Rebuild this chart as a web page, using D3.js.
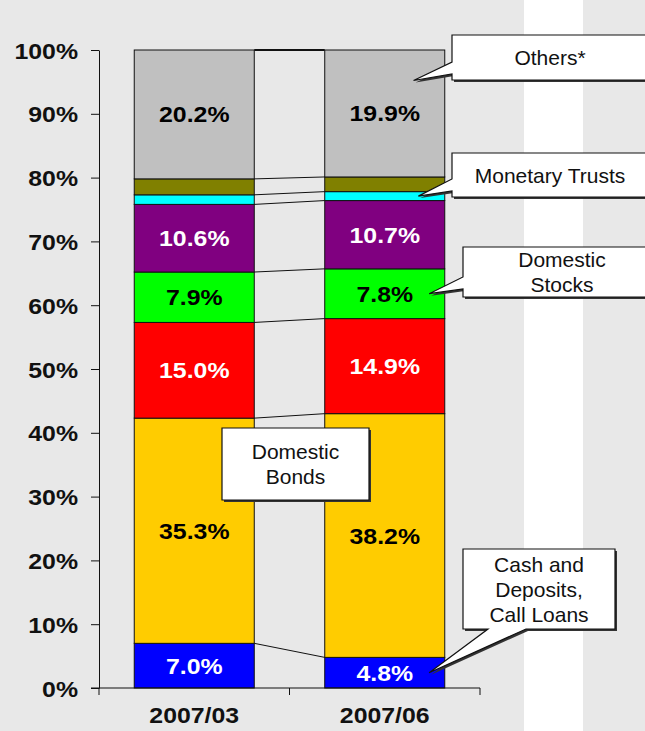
<!DOCTYPE html>
<html>
<head>
<meta charset="utf-8">
<script src="https://cdn.jsdelivr.net/npm/d3@7"></script>
<style>
  body { margin: 0; background: #e8e8e8; }
  svg { display: block; }
</style>
</head>
<body>
<div id="chart"></div>
<script>
// data, bottom to top
var periods = ['2007/03', '2007/06'];
var seriesKeys = ['cash', 'domesticBonds', 'redSeries', 'domesticStocks', 'purpleSeries', 'monetaryTrusts', 'oliveSeries', 'others'];
var seriesColors = ['#0000ff', '#ffcc00', '#ff0000', '#00ff00', '#800080', '#00ffff', '#808000', '#c0c0c0'];
var labelColors = ['#ffffff', '#000000', '#ffffff', '#000000', '#ffffff', '#000000', '#000000', '#000000'];
var share200703 = [7.0, 35.3, 15.0, 7.9, 10.6, 1.5, 2.5, 20.2];
var share200706 = [4.8, 38.2, 14.9, 7.8, 10.7, 1.4, 2.3, 19.9];
var yTicks = [0, 10, 20, 30, 40, 50, 60, 70, 80, 90, 100];

// callouts: which series they point at, where inside the 2007/06 bar the tip sits
var callouts = [
  { key: 'others', lines: ['Others*'], tipX: 0.74, tipY: 0.76 },
  { key: 'monetaryTrusts', lines: ['Monetary Trusts'], tipX: 0.78, tipY: 0.5 },
  { key: 'domesticStocks', lines: ['Domestic', 'Stocks'], tipX: 0.87, tipY: 0.5 },
  { key: 'cash', lines: ['Cash and', 'Deposits,', 'Call Loans'], tipX: 0.87, tipY: 0.5 }
];

var W = 645, H = 731;
var font = "'Liberation Sans', Arial, sans-serif";
var stretch = 'scale(1.13,1)';

var svg = d3.select('#chart').append('svg')
    .attr('width', W)
    .attr('height', H);

// background stripes
svg.append('rect').attr('width', W).attr('height', H).attr('fill', '#e8e8e8');
svg.append('rect').attr('x', 524).attr('width', 59).attr('height', H).attr('fill', '#ffffff');

var xScale = d3.scaleBand().domain(periods).range([99, 480]).paddingInner(0.37).paddingOuter(0.185);
var yScale = d3.scaleLinear().domain([0, 100]).range([688, 50]);
var bw = xScale.bandwidth();

var rows = periods.map(function(p, i) {
  var vals = i === 0 ? share200703 : share200706;
  var r = { period: p };
  seriesKeys.forEach(function(k, j) { r[k] = vals[j]; });
  return r;
});
var stacked = d3.stack().keys(seriesKeys)(rows);

// bars
var layer = svg.selectAll('g.layer')
  .data(stacked)
  .enter().append('g')
    .attr('class', 'layer')
    .attr('fill', function(d, i) { return seriesColors[i]; });

layer.selectAll('rect')
  .data(function(d) { return d; })
  .enter().append('rect')
    .attr('x', function(d) { return xScale(d.data.period); })
    .attr('y', function(d) { return yScale(d[1]); })
    .attr('width', bw)
    .attr('height', function(d) { return yScale(d[0]) - yScale(d[1]); })
    .attr('stroke', '#111')
    .attr('stroke-width', 1);

// series lines across the gap
svg.append('g').selectAll('line')
  .data(stacked)
  .enter().append('line')
    .attr('x1', xScale(periods[0]) + bw)
    .attr('x2', xScale(periods[1]))
    .attr('y1', function(d) { return yScale(d[0][1]); })
    .attr('y2', function(d) { return yScale(d[1][1]); })
    .attr('stroke', '#111')
    .attr('stroke-width', function(d, i) { return i === stacked.length - 1 ? 2 : 1; });

// value labels
stacked.forEach(function(s, i) {
  s.forEach(function(d) {
    var v = d[1] - d[0];
    if (v < 3) return;
    var cx = xScale(d.data.period) + bw / 2;
    var cy = yScale((d[0] + d[1]) / 2) + 8;
    svg.append('text')
      .attr('transform', 'translate(' + cx + ',' + cy + ') ' + stretch)
      .attr('text-anchor', 'middle')
      .attr('font-family', font)
      .attr('font-weight', 'bold')
      .attr('font-size', 22)
      .attr('fill', labelColors[i])
      .text(v.toFixed(1) + '%');
  });
});

// y axis
var yAxis = d3.axisLeft(yScale).tickValues(yTicks).tickSize(8).tickSizeOuter(0).tickFormat(function(d) { return d + '%'; });
var gy = svg.append('g').attr('transform', 'translate(99,0)').call(yAxis);
gy.select('.domain').attr('stroke', '#111');
gy.selectAll('.tick line').attr('stroke', '#111');
gy.selectAll('.tick text')
  .attr('x', null).attr('dy', null)
  .attr('transform', 'translate(-21,8) ' + stretch)
  .attr('font-family', font)
  .attr('font-weight', 'bold')
  .attr('font-size', 22)
  .attr('fill', '#111');

// x axis
svg.append('line').attr('x1', 91).attr('x2', 480).attr('y1', 688).attr('y2', 688).attr('stroke', '#111');
var xBounds = [99, 99 + xScale.step(), 480];
svg.append('g').selectAll('line')
  .data(xBounds)
  .enter().append('line')
    .attr('x1', function(d) { return d; })
    .attr('x2', function(d) { return d; })
    .attr('y1', 688).attr('y2', 695)
    .attr('stroke', '#111');
svg.append('g').selectAll('text')
  .data(periods)
  .enter().append('text')
    .attr('transform', function(d) { return 'translate(' + (xScale(d) + bw / 2) + ',723) ' + stretch; })
    .attr('text-anchor', 'middle')
    .attr('font-family', font)
    .attr('font-weight', 'bold')
    .attr('font-size', 22)
    .attr('fill', '#111')
    .text(function(d) { return d; });

// callout boxes
var boxes = {
  others:         { x0: 452, x1: 648, y0: 35,  y1: 80,  side: 'left',   b1: 62,  b2: 74 },
  monetaryTrusts: { x0: 452, x1: 648, y0: 153, y1: 197, side: 'left',   b1: 179, b2: 191 },
  domesticStocks: { x0: 463, x1: 661, y0: 247, y1: 297, side: 'left',   b1: 277, b2: 289 },
  cash:           { x0: 463, x1: 615, y0: 549, y1: 629, side: 'bottom', b1: 488, b2: 526 }
};

function calloutPath(b, tx, ty) {
  if (b.side === 'left') {
    return 'M' + b.x0 + ',' + b.y0 + 'H' + b.x1 + 'V' + b.y1 + 'H' + b.x0 +
           'V' + b.b2 + 'L' + tx + ',' + ty + 'L' + b.x0 + ',' + b.b1 + 'Z';
  }
  return 'M' + b.x0 + ',' + b.y0 + 'H' + b.x1 + 'V' + b.y1 + 'H' + b.b2 +
         'L' + tx + ',' + ty + 'L' + b.b1 + ',' + b.y1 + 'H' + b.x0 + 'Z';
}

function drawBox(path, b, lines) {
  svg.append('path').attr('d', path).attr('transform', 'translate(2,2)').attr('fill', '#333');
  svg.append('path').attr('d', path).attr('fill', '#fff').attr('stroke', '#111').attr('stroke-width', 1.2);
  var cx = (b.x0 + b.x1) / 2, cy = (b.y0 + b.y1) / 2;
  lines.forEach(function(t, i) {
    svg.append('text')
      .attr('x', cx)
      .attr('y', cy + 7.5 + (i - (lines.length - 1) / 2) * 25)
      .attr('text-anchor', 'middle')
      .attr('font-family', font)
      .attr('font-size', 21)
      .attr('fill', '#111')
      .text(t);
  });
}

callouts.forEach(function(c) {
  var s = stacked[seriesKeys.indexOf(c.key)][1];
  var tx = xScale(periods[1]) + bw * c.tipX;
  var ty = yScale(s[0] + (s[1] - s[0]) * c.tipY);
  var b = boxes[c.key];
  drawBox(calloutPath(b, tx, ty), b, c.lines);
});

// label box without pointer
var bondsBox = { x0: 222, x1: 369, y0: 428, y1: 500 };
drawBox('M222,428H369V500H222Z', bondsBox, ['Domestic', 'Bonds']);
</script>
</body>
</html>
